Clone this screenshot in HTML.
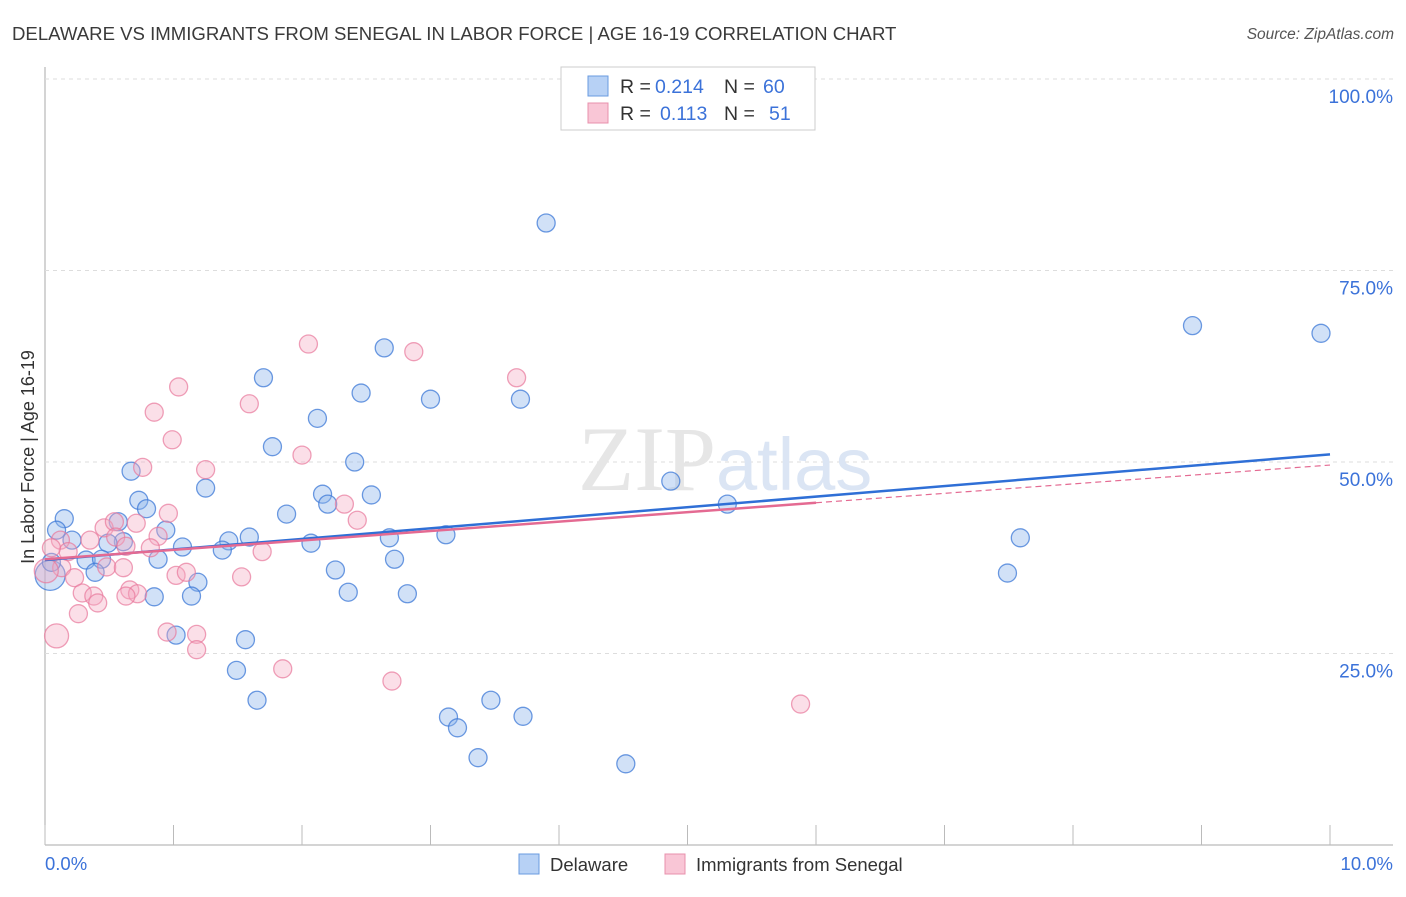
<!DOCTYPE html>
<html><head><meta charset="utf-8"><style>
body{margin:0;background:#fff;font-family:"Liberation Sans",sans-serif}
</style></head><body>
<svg id="chart" width="1406" height="892" viewBox="0 0 1406 892" xmlns="http://www.w3.org/2000/svg">
<text x="12" y="40" font-size="18.6" fill="#3a3a3a">DELAWARE VS IMMIGRANTS FROM SENEGAL IN LABOR FORCE | AGE 16-19 CORRELATION CHART</text>
<text x="1394" y="39" font-size="15.5" font-style="italic" fill="#555" text-anchor="end">Source: ZipAtlas.com</text>
<g id="grid"></g>
<text x="716" y="490" font-size="92" font-family="Liberation Serif,serif" fill="#e6e6e6" text-anchor="end">ZIP</text>
<text x="716" y="490" font-size="74" fill="#dbe5f4">atlas</text>
<g id="marks"></g>
<text transform="translate(34,457) rotate(-90)" font-size="18" fill="#333" text-anchor="middle">In Labor Force | Age 16-19</text>
<text x="45" y="870" font-size="18.5" fill="#3b72d9">0.0%</text>
<text x="1393" y="870" font-size="18.5" fill="#3b72d9" text-anchor="end">10.0%</text>
<g>
<rect x="561" y="67" width="254" height="63" fill="#fff" stroke="#ccc"/>
<rect x="588" y="76" width="20" height="20" fill="#b7d1f5" stroke="#6a9be0"/>
<rect x="588" y="103" width="20" height="20" fill="#f9c6d6" stroke="#e890ac"/>
<text x="620" y="93" font-size="19.5" fill="#333">R =</text>
<text x="655" y="93" font-size="19.5" fill="#3b72d9">0.214</text>
<text x="724" y="93" font-size="19.5" fill="#333">N =</text>
<text x="763" y="93" font-size="19.5" fill="#3b72d9">60</text>
<text x="620" y="120" font-size="19.5" fill="#333">R =</text>
<text x="660" y="120" font-size="19.5" fill="#3b72d9">0.113</text>
<text x="724" y="120" font-size="19.5" fill="#333">N =</text>
<text x="769" y="120" font-size="19.5" fill="#3b72d9">51</text>
</g>
<g>
<rect x="519" y="854" width="20" height="20" fill="#b7d1f5" stroke="#6a9be0"/>
<text x="550" y="871" font-size="18.5" fill="#333">Delaware</text>
<rect x="665" y="854" width="20" height="20" fill="#f9c6d6" stroke="#e890ac"/>
<text x="696" y="871" font-size="18.5" fill="#333">Immigrants from Senegal</text>
</g>
</svg>
<script>
const yTicks=[100,75,50,25];
const yTickLabels=["100.0%","75.0%","50.0%","25.0%"];
const xTicks=[0,1,2,3,4,5,6,7,8,9,10];
const delX=[3.90,8.93,9.93,2.64,1.70,2.46,3.00,3.70,2.12,1.77,0.67,2.41,1.25,0.73,2.16,2.54,4.87,5.31,2.20,0.79,0.15,0.57,1.88,0.09,0.94,0.21,1.59,1.43,2.68,3.12,7.59,0.61,2.07,0.49,1.07,1.38,0.32,0.44,0.88,2.72,0.39,2.26,7.49,0.04,1.19,2.36,0.85,1.14,2.82,1.02,1.56,1.49,1.65,3.14,3.47,3.72,3.21,3.37,4.52,0.05];
const delY=[81.2,67.8,66.8,64.9,61.0,59.0,58.2,58.2,55.7,52.0,48.8,50.0,46.6,45.0,45.8,45.7,47.5,44.5,44.5,43.9,42.6,42.2,43.2,41.1,41.1,39.8,40.2,39.7,40.1,40.5,40.1,39.6,39.4,39.4,38.9,38.5,37.2,37.3,37.3,37.3,35.6,35.9,35.5,35.2,34.3,33.0,32.4,32.5,32.8,27.4,26.8,22.8,18.9,16.7,18.9,16.8,15.3,11.4,10.6,36.9];
const senX=[2.05,2.87,3.67,1.04,0.85,1.59,0.99,2.00,0.76,1.25,2.33,0.96,2.43,0.46,0.71,0.54,0.88,0.55,0.35,0.12,0.63,0.82,0.18,1.69,0.05,0.48,0.61,0.13,0.23,1.02,1.10,1.53,0.66,0.72,0.29,0.38,0.41,0.63,0.26,0.95,1.18,1.18,0.09,1.85,2.70,5.88,0.01];
const senY=[65.4,64.4,61.0,59.8,56.5,57.6,52.9,50.9,49.3,49.0,44.5,43.3,42.4,41.4,42.0,42.2,40.3,40.2,39.8,39.8,39.0,38.8,38.3,38.3,38.8,36.3,36.2,36.2,34.9,35.2,35.6,35.0,33.3,32.8,32.9,32.5,31.6,32.5,30.2,27.8,27.5,25.5,27.3,23.0,21.4,18.4,35.8];
const delTrend=[37.2,51.0];
const senTrend=[37.3,49.6];
const senMaxX=6.0;
const NS="http://www.w3.org/2000/svg";
const X=v=>45+v*128.5, Y=v=>845-v*7.66;
function mk(t,a,p){const e=document.createElementNS(NS,t);for(const k in a)e.setAttribute(k,a[k]);p.appendChild(e);return e;}
const grid=document.getElementById('grid'),marks=document.getElementById('marks');
mk('line',{x1:45,y1:67,x2:45,y2:845,stroke:'#aaa'},grid);
mk('line',{x1:45,y1:845,x2:1393,y2:845,stroke:'#aaa'},grid);
yTicks.forEach((t,i)=>{
 const l=mk('line',{x1:45,y1:Y(t),x2:1393,y2:Y(t),stroke:'#ddd','stroke-dasharray':'4,4'},grid);
 
 
 const tx=mk('text',{x:1393,y:Y(t)+24,'font-size':19,fill:'#3b72d9','text-anchor':'end'},grid);
 tx.textContent=yTickLabels[i];
 
 
});
xTicks.forEach(t=>{
 const l=mk('line',{x1:X(t),y1:825,x2:X(t),y2:845,stroke:'#bbb'},grid);
 
 
});
delX.forEach((v,i)=>{
 const big=(v<0.06&&delY[i]<36)?15:9;
 const c=mk('circle',{cx:X(v),cy:Y(delY[i]),r:big,fill:'rgba(140,180,235,0.4)',stroke:'rgba(60,120,215,0.75)','stroke-width':1.3},marks);
 
 
});
senX.forEach((v,i)=>{
 const big=(v<0.1&&senY[i]<36)?12:9;
 const c=mk('circle',{cx:X(v),cy:Y(senY[i]),r:big,fill:'rgba(245,170,195,0.38)',stroke:'rgba(232,120,155,0.7)','stroke-width':1.3},marks);
 
 
});
const sAt=x=>senTrend[0]+(senTrend[1]-senTrend[0])*x/10;
let tl=mk('line',{x1:X(senMaxX),y1:Y(sAt(senMaxX)),x2:X(10),y2:Y(senTrend[1]),stroke:'#e46a92','stroke-width':1.2,'stroke-dasharray':'6,4'},marks);


tl=mk('line',{x1:X(0),y1:Y(delTrend[0]),x2:X(10),y2:Y(delTrend[1]),stroke:'#2f6fd6','stroke-width':2.5},marks);


tl=mk('line',{x1:X(0),y1:Y(senTrend[0]),x2:X(senMaxX),y2:Y(sAt(senMaxX)),stroke:'#e46a92','stroke-width':2.5},marks);


</script>
</body></html>
